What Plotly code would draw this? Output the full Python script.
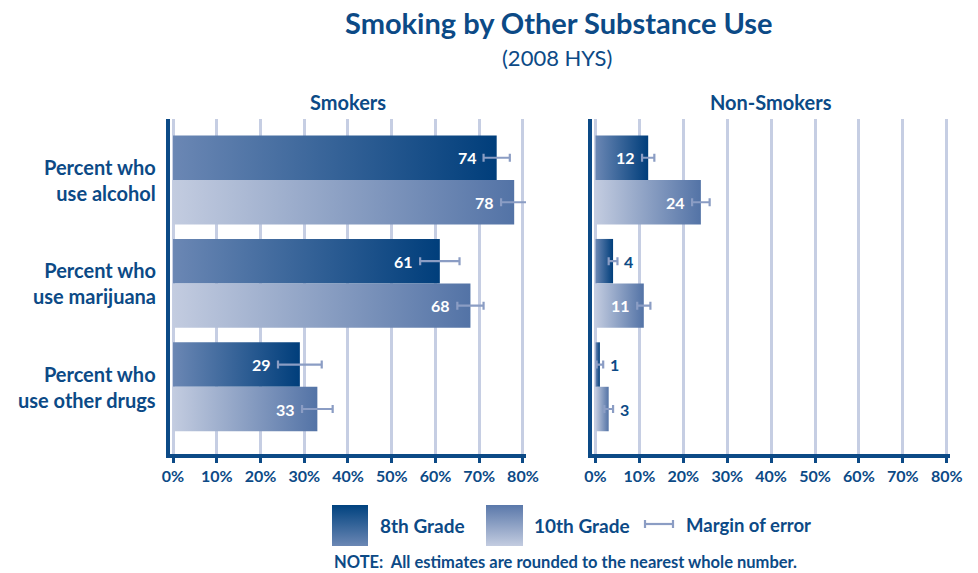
import plotly.graph_objects as go

# ---------------- data ----------------
categories = ["Percent who<br>use alcohol", "Percent who<br>use marijuana", "Percent who<br>use other drugs"]
panels = ["Smokers", "Non-Smokers"]
grades = ["8th Grade", "10th Grade"]

smokers_8th = [74, 61, 29]
smokers_8th_err = [3, 4.5, 5]
smokers_10th = [78, 68, 33]
smokers_10th_err = [3, 3, 3.5]

nonsmokers_8th = [12, 4, 1]
nonsmokers_8th_err = [1.4, 1, 0.75]
nonsmokers_10th = [24, 11, 3]
nonsmokers_10th_err = [2, 1.5, 1]

tick_values = [0, 10, 20, 30, 40, 50, 60, 70, 80]
tick_labels = ["0%", "10%", "20%", "30%", "40%", "50%", "60%", "70%", "80%"]

# ---------------- style ----------------
W, H = 978, 573
DARK = "#0c4a86"
GRID = "#c6cee3"
ERR = "#8b9dc4"
FONT = "Lato"
GRAD = {
    "8th Grade": [[0, "#6b87b4"], [1, "#003e7b"]],
    "10th Grade": [[0, "#c3cce0"], [1, "#5373a6"]],
}
HALF = 0.43  # bar thickness in category units

def px_x(p):
    return p / W

def px_y(p):
    return (H - p) / H

def txt(x, y, text, size, bold=True, xanchor="center"):
    return dict(x=px_x(x), y=px_y(y), xref="paper", yref="paper", text=text,
                showarrow=False, xanchor=xanchor, yanchor="middle", borderpad=0,
                font=dict(family=FONT, size=size, weight="bold" if bold else "normal", color=DARK))

fig = go.Figure()

series = {
    ("Smokers", "8th Grade"): (smokers_8th, smokers_8th_err),
    ("Smokers", "10th Grade"): (smokers_10th, smokers_10th_err),
    ("Non-Smokers", "8th Grade"): (nonsmokers_8th, nonsmokers_8th_err),
    ("Non-Smokers", "10th Grade"): (nonsmokers_10th, nonsmokers_10th_err),
}

annotations = []
for pi, panel in enumerate(panels):
    xa = "x" if pi == 0 else "x2"
    ya = "y" if pi == 0 else "y2"
    for gi, grade in enumerate(grades):
        vals, errs = series[(panel, grade)]
        for ci, v in enumerate(vals):
            y0 = ci - HALF if gi == 0 else ci
            y1 = ci if gi == 0 else ci + HALF
            fig.add_trace(go.Scatter(
                x=[0, v, v, 0, 0], y=[y0, y0, y1, y1, y0],
                mode="none", fill="toself",
                fillgradient=dict(type="horizontal", colorscale=GRAD[grade]),
                xaxis=xa, yaxis=ya, hoverinfo="skip", showlegend=False,
            ))
        centers = [ci - HALF / 2 if gi == 0 else ci + HALF / 2 for ci in range(len(vals))]
        fig.add_trace(go.Scatter(
            x=vals, y=centers, mode="markers",
            marker=dict(size=1, opacity=0),
            error_x=dict(type="data", array=errs, color=ERR, thickness=2.2, width=4),
            xaxis=xa, yaxis=ya, hoverinfo="skip", showlegend=False,
        ))
        for ci, (v, e) in enumerate(zip(vals, errs)):
            inside = v >= 8
            annotations.append(dict(
                x=(v - e) if inside else (v + e), y=centers[ci], xref=xa, yref=ya,
                text=str(v), showarrow=False,
                xanchor="right" if inside else "left", yanchor="middle",
                xshift=-5 if inside else 5,
                font=dict(family=FONT, size=16, weight="bold", color="white" if inside else DARK),
            ))

# category labels
for ci, cat in enumerate(categories):
    annotations.append(dict(
        x=px_x(158), xref="paper", y=ci, yref="y", text=cat, showarrow=False,
        xanchor="right", yanchor="middle", align="right",
        font=dict(family=FONT, size=20, weight="bold", color=DARK),
    ))

# titles
annotations += [
    txt(559, 23, "Smoking by Other Substance Use", 29),
    txt(557, 57, "(2008 HYS)", 22, bold=False),
    txt(348, 102, "Smokers", 20),
    txt(771, 102, "Non-Smokers", 20),
]

# legend (custom)
leg_x = {"8th Grade": (332, 368), "10th Grade": (486, 523)}
leg_grad = {
    "8th Grade": [[0, "#6b87b4"], [1, "#00427f"]],
    "10th Grade": [[0, "#c3cce0"], [1, "#5a78aa"]],
}
for grade in grades:
    a, b = leg_x[grade]
    fig.add_trace(go.Scatter(
        x=[a, b, b, a, a], y=[0, 0, 1, 1, 0], mode="none", fill="toself",
        fillgradient=dict(type="vertical", colorscale=leg_grad[grade]),
        xaxis="x3", yaxis="y3", hoverinfo="skip", showlegend=False,
    ))
annotations += [
    txt(379, 525, "8th Grade", 19, xanchor="left"),
    txt(533, 525, "10th Grade", 19, xanchor="left"),
    txt(685, 525, "Margin of error", 18.5, xanchor="left"),
    txt(333, 562, "NOTE:  All estimates are rounded to the nearest whole number.", 16.5, xanchor="left"),
]
shapes = [
    dict(type="line", xref="paper", yref="paper", x0=px_x(645), x1=px_x(673), y0=px_y(524), y1=px_y(524),
         line=dict(color=ERR, width=2.2)),
    dict(type="line", xref="paper", yref="paper", x0=px_x(645), x1=px_x(645), y0=px_y(520), y1=px_y(528),
         line=dict(color=ERR, width=2.2)),
    dict(type="line", xref="paper", yref="paper", x0=px_x(673), x1=px_x(673), y0=px_y(520), y1=px_y(528),
         line=dict(color=ERR, width=2.2)),
]

xcommon = dict(
    tickvals=tick_values, ticktext=tick_labels,
    showgrid=True, gridcolor=GRID, gridwidth=2.5, zeroline=False,
    showline=True, linecolor=DARK, linewidth=3.5,
    ticks="outside", ticklen=5, tickwidth=3, tickcolor=DARK,
    tickfont=dict(family=FONT, size=16, weight="bold", color=DARK),
    fixedrange=True, automargin=False,
)
ydomain = [px_y(454), px_y(119)]
ycommon = dict(
    range=[2.65, -0.59], domain=ydomain, showgrid=False, zeroline=False,
    showline=True, linecolor=DARK, linewidth=3.5, showticklabels=False, ticks="",
    fixedrange=True, automargin=False,
)

fig.update_layout(
    width=W, height=H, autosize=False,
    margin=dict(l=0, r=0, t=0, b=0, pad=0, autoexpand=False),
    paper_bgcolor="white", plot_bgcolor="white",
    xaxis=dict(domain=[px_x(170), px_x(526)], range=[-0.69, 80.7], anchor="y", **xcommon),
    yaxis=dict(anchor="x", **ycommon),
    xaxis2=dict(domain=[px_x(592), px_x(950)], range=[-0.8, 80.75], anchor="y2", **xcommon),
    yaxis2=dict(anchor="x2", **ycommon),
    xaxis3=dict(domain=[px_x(330), px_x(525)], range=[330, 525], anchor="y3", visible=False,
                fixedrange=True, automargin=False),
    yaxis3=dict(domain=[px_y(546), px_y(505)], range=[0, 1], anchor="x3", visible=False,
                fixedrange=True, automargin=False),
    annotations=annotations, shapes=shapes, showlegend=False,
)

fig.write_html("out.html")
